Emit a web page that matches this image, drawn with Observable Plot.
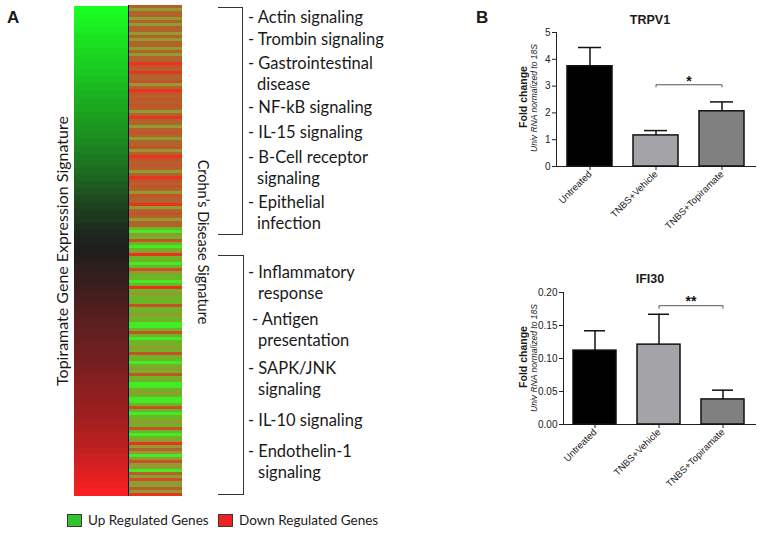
<!DOCTYPE html>
<html><head><meta charset="utf-8">
<script src="https://cdn.jsdelivr.net/npm/d3@7"></script>
<script src="https://cdn.jsdelivr.net/npm/@observablehq/plot@0.6"></script>
<style>
body{margin:0;background:#fff;}
#root{position:relative;width:762px;height:535px;overflow:hidden;font-family:Lato,"Open Sans",sans-serif;color:#1a1a1a;}
.abs{position:absolute;white-space:nowrap;}
.heat svg{display:block;shape-rendering:crispEdges;}
.bar svg{display:block;overflow:visible;}
.bar g[aria-label="x-axis tick label"]{font-size:9.5px;}
</style></head><body><div id="root"></div>
<script>
// ---------- data ----------
// Topiramate gene expression signature: ranked scores (top = up, bottom = down)
const expressionScores = [1.00,.97,.94,.91,.88,.85,.83,.80,.78,.75,.72,.69,.66,.63,.61,.58,.55,.53,.50,.47,
  .44,.41,.38,.35,.32,.28,.24,.20,.16,.13,.10,.07,.04,.02,.00,-.02,-.05,-.08,-.10,-.12,
  -.15,-.18,-.21,-.23,-.26,-.28,-.30,-.32,-.34,-.36,-.38,-.41,-.44,-.47,-.49,-.51,-.53,-.55,-.57,-.60,
  -.63,-.66,-.69,-.73,-.77,-.81,-.85,-.89,-.93,-.97];
// Crohn's disease signature, row classes in the same gene order
const crohnStripes = (
  "B O B B O B O B B O B O B B O B O B B " +
  "R r B R B B r O B R r B r " +
  "B r B O B R B B O B r B O B B r O B R r " +
  "B r B O B R r B r B O r B B R O B r B O B B " +
  "L G O L r L G L O R L L G L r O L L G L R L O L L " +
  "L r L L O L L G G L r L G " +
  "L L O L r L L G L O L r L L G G L O L G G L r L G L L O L r L G L " +
  "O R O B O G O r O O G B O r O O B O R").trim().split(" ");
const stripeClasses = ["R","r","B","O","L","G"];
const upperPathways = ["Actin signaling","Trombin signaling","Gastrointestinal|disease","NF-kB signaling","IL-15 signaling","B-Cell receptor|signaling","Epithelial|infection"];
const lowerPathways = ["Inflammatory|response","Antigen|presentation","SAPK/JNK|signaling","IL-10 signaling","Endothelin-1|signaling"];
const legendLabels = ["Up Regulated Genes","Down Regulated Genes"];

const groups = ["Untreated","TNBS+Vehicle","TNBS+Topiramate"];
const trpv1Mean = [3.74, 1.16, 2.06];
const trpv1Sem  = [0.70, 0.18, 0.35];
const ifi30Mean = [0.112, 0.121, 0.038];
const ifi30Sem  = [0.030, 0.046, 0.014];
const trpv1Ticks = [0,1,2,3,4,5];
const ifi30Ticks = [0,0.05,0.10,0.15,0.20];

// ---------- helpers ----------
const root = document.getElementById("root");
function place(node, left, top, cls){
  const w = document.createElement("div");
  w.className = "abs " + (cls||"");
  w.style.left = left+"px"; w.style.top = top+"px";
  w.appendChild(node); root.appendChild(w); return w;
}
function text(t, x, yc, style={}){
  const d = document.createElement("div");
  d.className = "abs"; d.textContent = t;
  Object.assign(d.style, {left:x+"px", top:(yc-11)+"px", lineHeight:"22px", fontSize:"16.5px"}, style);
  root.appendChild(d); return d;
}
function vtext(t, cx, cy, rot, style={}){
  const d = document.createElement("div");
  d.className = "abs"; d.textContent = t;
  Object.assign(d.style, {left:cx+"px", top:cy+"px", transform:`translate(-50%,-50%) rotate(${rot}deg)`, lineHeight:"1"}, style);
  root.appendChild(d); return d;
}
function box(x,y,w,h,style){
  const d = document.createElement("div");
  d.className = "abs";
  Object.assign(d.style,{left:x+"px",top:y+"px",width:w+"px",height:h+"px"},style);
  root.appendChild(d); return d;
}

// ---------- panel A heatmap ----------
const heatLeft = Plot.plot({
  width: 54, height: 491, margin: 0,
  x: {axis: null, padding: 0}, y: {axis: null, padding: 0, domain: d3.range(expressionScores.length)},
  color: {type: "linear", domain: [-1, 0, 1], range: ["#ff2020", "#1e1e1e", "#1aff22"], interpolate: "rgb"},
  marks: [Plot.cell(expressionScores, {x: () => "topiramate", y: (d, i) => i, fill: d => d})]
});
place(heatLeft, 74, 5, "heat");
const heatRight = Plot.plot({
  width: 54, height: 491, margin: 0,
  x: {axis: null, padding: 0}, y: {axis: null, padding: 0, domain: d3.range(crohnStripes.length)},
  color: {type: "ordinal", domain: stripeClasses, range: ["#e8341e", "#c8502a", "#b0642c", "#939a30", "#6fb424", "#44ec26"]},
  marks: [Plot.cell(crohnStripes, {x: () => "crohn", y: (d, i) => i, fill: d => d})]
});
place(heatRight, 128, 5, "heat");
box(127.5, 5, 1, 491, {background:"#111"});

text("A", 7, 18, {fontFamily:'"Liberation Sans",Arial,sans-serif', fontWeight:"bold", fontSize:"17px"});
vtext("Topiramate Gene Expression Signature", 62, 251, -90, {fontSize:"16px"});
vtext("Crohn\u2019s Disease Signature", 203, 242, 90, {fontSize:"14.5px"});

// brackets
box(218, 7, 24, 226, {borderTop:"1.2px solid #333", borderRight:"1.2px solid #333", borderBottom:"1.2px solid #333"});
box(218, 255, 25, 238, {borderTop:"1.2px solid #333", borderRight:"1.2px solid #333", borderBottom:"1.2px solid #333"});

// pathway lists
const upperY = [17, 39, 63, 107, 132, 157, 202];
upperPathways.forEach((p, i) => {
  p.split("|").forEach((ln, j) => text(j ? ln : "- " + ln, j ? 257 : 248, upperY[i] + j * 20.5));
});
const lowerY = [272, 319, 368, 420, 451];
lowerPathways.forEach((p, i) => {
  p.split("|").forEach((ln, j) => text(j ? ln : "- " + ln, j ? 258 : (i === 1 ? 252 : 248), lowerY[i] + j * 20.5));
});

// legend
box(67, 514, 15, 13, {background:"#30c530", border:"1px solid #3a3a3a", boxSizing:"border-box"});
text(legendLabels[0], 88, 520, {fontSize:"13.5px"});
box(218, 514, 15, 13, {background:"#ee2020", border:"1px solid #3a3a3a", boxSizing:"border-box"});
text(legendLabels[1], 239, 520, {fontSize:"13.5px"});

// ---------- panel B ----------
const barColors = ["#000000", "#a3a3a8", "#808080"];
function barChart({mean, sem, domain, ticks, fmt, height, marginLeft, marginTop, marginBottom, padIn, padOut, sigY, sigDrop, starY, star, dx}){
  const data = groups.map((g, i) => ({group: g, mean: mean[i], top: mean[i] + sem[i]}));
  const sig = [
    {x: groups[1], y: sigY - sigDrop}, {x: groups[1], y: sigY},
    {x: groups[2], y: sigY}, {x: groups[2], y: sigY - sigDrop}
  ];
  return Plot.plot({
    width: 322, height, marginLeft, marginRight: 7, marginTop, marginBottom,
    style: {fontFamily: '"Liberation Sans",Arial,sans-serif', fontSize: "10px", color: "#222", background: "transparent"},
    x: {domain: groups, paddingInner: padIn, paddingOuter: padOut, align: 0.5, label: null, tickRotate: -45, tickSize: 4, tickPadding: 2, line: true},
    y: {domain, ticks, tickFormat: fmt, label: null, tickSize: 4, tickPadding: 2, line: true},
    color: {domain: groups, range: barColors},
    marks: [
      Plot.barY(data, {x: "group", y: "mean", fill: "group", stroke: "#111", strokeWidth: 1.5}),
      Plot.ruleX(data, {x: "group", y1: "mean", y2: "top", stroke: "#111", strokeWidth: 1.5}),
      Plot.tickY(data, {x: "group", y: "top", stroke: "#111", strokeWidth: 1.5, insetLeft: 11, insetRight: 11}),
      Plot.line(sig, {x: "x", y: "y", stroke: "#555", strokeWidth: 1}),
      Plot.text([star], {x: () => groups[1], y: () => starY, text: d => d, dx, fontSize: 14, fontWeight: "bold", fill: "#111"})
    ]
  });
}
const c1 = barChart({mean: trpv1Mean, sem: trpv1Sem, domain: [0, 5], ticks: trpv1Ticks, fmt: d3.format("d"),
  height: 260, marginLeft: 116, marginTop: 32, marginBottom: 94, padIn: 0.323, padOut: 0.158,
  sigY: 3.05, sigDrop: 0.08, starY: 3.16, star: "*", dx: 33});
place(c1, 440, 0, "bar");
const c2 = barChart({mean: ifi30Mean, sem: ifi30Sem, domain: [0, 0.2], ticks: ifi30Ticks, fmt: d3.format(".2f"),
  height: 275, marginLeft: 123, marginTop: 32, marginBottom: 111, padIn: 0.328, padOut: 0.164,
  sigY: 0.180, sigDrop: 0.004, starY: 0.186, star: "**", dx: 32});
place(c2, 440, 260, "bar");

const arial = '"Liberation Sans",Arial,sans-serif';
text("B", 476, 18, {fontFamily: arial, fontWeight: "bold", fontSize: "17px"});
vtext("TRPV1", 650, 20, 0, {fontFamily: arial, fontWeight: "bold", fontSize: "12.5px"});
vtext("IFI30", 650, 279, 0, {fontFamily: arial, fontWeight: "bold", fontSize: "12.5px"});
[[97], [357]].forEach(([cy]) => {
  vtext("Fold change", 523, cy, -90, {fontFamily: arial, fontWeight: "bold", fontSize: "10.5px"});
  vtext("Univ RNA normalized to 18S", 534, cy + 1, -90, {fontFamily: arial, fontStyle: "italic", fontSize: "8.5px"});
});
</script></body></html>
